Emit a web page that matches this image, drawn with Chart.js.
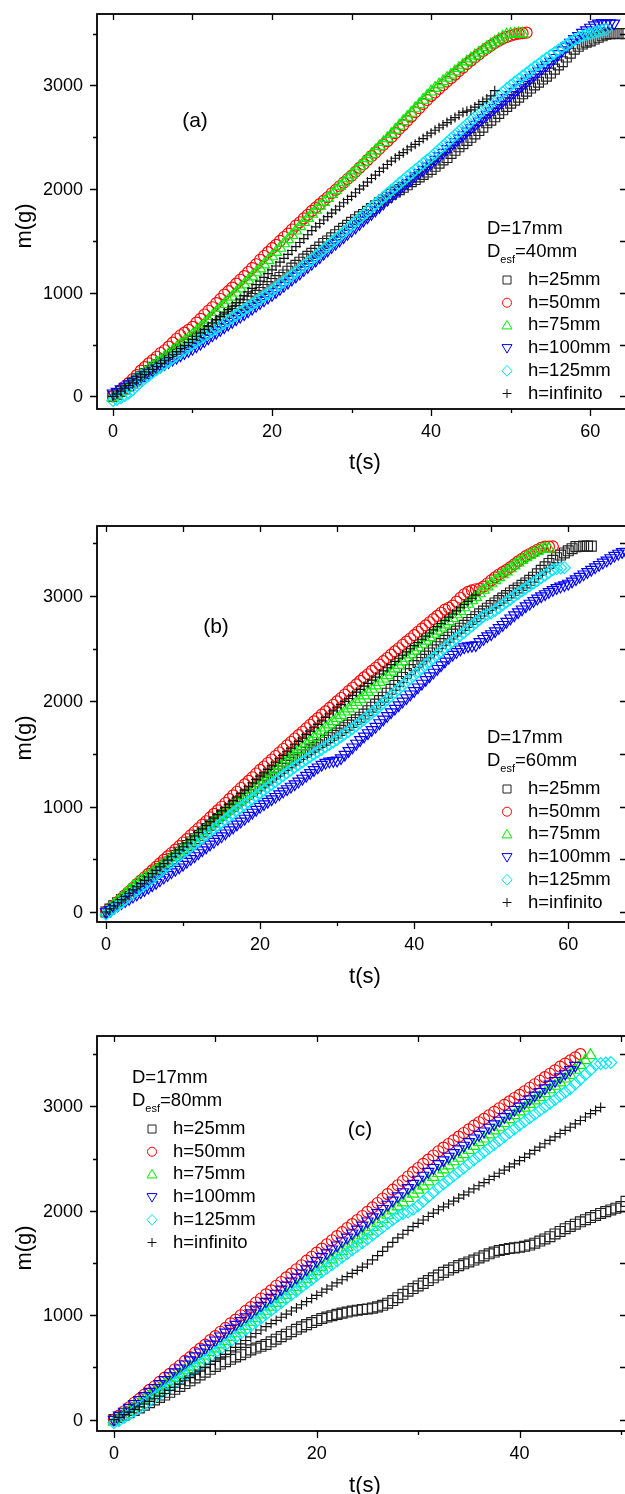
<!DOCTYPE html>
<html>
<head>
<meta charset="utf-8">
<script src="https://cdn.jsdelivr.net/npm/chart.js@4.4.1/dist/chart.umd.min.js"></script>
<style>
  html, body { margin: 0; padding: 0; background: #fff; }
  #wrap { position: relative; width: 625px; height: 1494px; overflow: hidden; background: #fff; }
  canvas { position: absolute; left: 0; }
</style>
</head>
<body>
<div id="wrap">
  <canvas id="chartA" width="640" height="490" style="top:0;width:640px;height:490px"></canvas>
  <canvas id="chartB" width="640" height="510" style="top:490px;width:640px;height:510px"></canvas>
  <canvas id="chartC" width="640" height="494" style="top:1000px;width:640px;height:494px"></canvas>
</div>
<script>
// sampling times (s), shared by every series; each series uses as many as it has values
const timeSec = [0,0.5,1,1.5,2,2.5,3,3.5,4,4.5,5,5.5,6,6.5,7,7.5,8,8.5,9,9.5,10,10.5,11,11.5,12,12.5,13,13.5,14,14.5,15,15.5,16,16.5,17,17.5,18,18.5,19,19.5,20,20.5,21,21.5,22,22.5,23,23.5,24,24.5,25,25.5,26,26.5,27,27.5,28,28.5,29,29.5,30,30.5,31,31.5,32,32.5,33,33.5,34,34.5,35,35.5,36,36.5,37,37.5,38,38.5,39,39.5,40,40.5,41,41.5,42,42.5,43,43.5,44,44.5,45,45.5,46,46.5,47,47.5,48,48.5,49,49.5,50,50.5,51,51.5,52,52.5,53,53.5,54,54.5,55,55.5,56,56.5,57,57.5,58,58.5,59,59.5,60,60.5,61,61.5,62,62.5,63,63.5,64,64.5,65,65.5,66,66.5,67,67.5,68];

const seriesNames = ['h=25mm', 'h=50mm', 'h=75mm', 'h=100mm', 'h=125mm', 'h=infinito'];

const xTicksAB = [0, 20, 40, 60];
const xTicksC = [0, 20, 40];
const xMinorTicks = [10, 30, 50];
const yTicks = [0, 1000, 2000, 3000];
const yMinorTicks = [500, 1500, 2500, 3500];

// ---- panel (a): D_esf = 40mm ----
const massA25 = [0,20,48,72,100,128,158,190,220,250,
  280,305,330,360,380,405,430,455,480,505,
  530,556,582,602,635,662,690,718,745,772,
  800,828,857,885,920,945,975,1003,1032,1060,
  1090,1118,1148,1172,1208,1238,1265,1295,1325,1352,
  1380,1410,1440,1476,1500,1530,1560,1592,1622,1650,
  1680,1705,1732,1755,1785,1812,1840,1868,1895,1922,
  1950,1972,1995,2018,2042,2072,2092,2118,2142,2165,
  2190,2220,2250,2282,2305,2345,2375,2408,2438,2470,
  2500,2532,2565,2598,2640,2665,2698,2730,2765,2798,
  2830,2858,2888,2920,2945,2975,3005,3032,3062,3090,
  3120,3158,3198,3230,3275,3312,3350,3378,3400,3418,
  3430,3448,3465,3480,3495,3500,3502,3500,3502,3500];
const massA50 = [0,25,62,95,130,168,205,248,282,318,
  350,382,418,445,480,518,556,590,615,642,
  670,712,748,790,826,860,900,940,982,1015,
  1050,1088,1125,1160,1200,1238,1275,1318,1355,1392,
  1430,1462,1500,1538,1570,1610,1648,1680,1718,1752,
  1790,1822,1855,1890,1922,1960,1992,2028,2062,2098,
  2130,2168,2205,2240,2280,2318,2352,2390,2428,2462,
  2500,2540,2582,2618,2660,2700,2742,2780,2822,2860,
  2900,2932,2968,3002,3038,3070,3105,3140,3172,3208,
  3240,3270,3300,3330,3358,3385,3410,3432,3452,3468,
  3480,3492,3500,3505,3510];
const massA75 = [-10,15,45,78,110,140,172,200,232,262,
  290,318,345,375,405,436,468,498,528,560,
  590,625,660,700,738,775,812,850,888,925,
  960,1000,1040,1078,1118,1155,1195,1232,1272,1312,
  1350,1392,1432,1475,1515,1555,1598,1640,1680,1720,
  1760,1798,1838,1875,1912,1950,1988,2028,2065,2102,
  2140,2178,2218,2258,2296,2335,2372,2412,2452,2490,
  2530,2572,2612,2655,2695,2735,2778,2818,2860,2900,
  2940,2975,3008,3040,3072,3102,3135,3168,3198,3230,
  3260,3288,3315,3342,3368,3395,3420,3445,3468,3490,
  3495,3498,3500,3500];
const massA100 = [30,45,70,95,118,140,162,185,208,230,
  250,270,290,312,332,355,375,398,420,440,
  460,485,510,535,562,590,615,642,668,695,
  720,745,770,795,822,848,875,902,928,955,
  980,1008,1038,1068,1098,1128,1158,1188,1220,1250,
  1280,1312,1345,1378,1410,1442,1475,1505,1538,1570,
  1600,1632,1665,1698,1730,1762,1795,1830,1862,1898,
  1930,1962,1995,2028,2060,2092,2125,2158,2188,2220,
  2250,2285,2318,2352,2388,2420,2455,2490,2522,2558,
  2590,2622,2655,2688,2720,2752,2785,2818,2850,2880,
  2910,2942,2975,3008,3040,3072,3105,3138,3170,3200,
  3230,3268,3305,3342,3378,3415,3450,3480,3510,3535,
  3560,3582,3600,3605,3600,3602,3600];
const massA125 = [-40,-30,-12,8,30,65,105,140,172,200,
  230,258,285,312,340,368,395,422,450,478,
  505,530,556,582,608,633,658,684,710,735,
  760,786,812,838,862,888,914,940,966,992,
  1020,1050,1080,1108,1138,1168,1198,1228,1260,1290,
  1320,1352,1385,1418,1450,1485,1518,1550,1585,1618,
  1650,1685,1720,1752,1788,1822,1855,1890,1922,1958,
  1990,2022,2055,2088,2120,2152,2185,2215,2248,2280,
  2310,2345,2380,2415,2450,2485,2520,2555,2590,2625,
  2660,2695,2730,2765,2800,2832,2868,2900,2935,2968,
  3000,3030,3060,3090,3118,3148,3178,3205,3235,3262,
  3290,3315,3342,3368,3392,3418,3440,3460,3478,3490,
  3500,3512,3522,3532,3540];
const massAinf = [0,22,50,78,105,130,158,185,210,235,
  260,288,318,348,375,402,432,462,490,520,
  550,580,612,645,675,708,740,772,805,838,
  870,905,938,972,1008,1042,1078,1112,1148,1185,
  1220,1258,1295,1332,1370,1408,1445,1485,1522,1560,
  1600,1635,1668,1702,1735,1768,1800,1835,1868,1900,
  1930,1965,2000,2032,2068,2102,2135,2170,2202,2238,
  2270,2298,2325,2352,2380,2408,2432,2460,2488,2515,
  2540,2568,2592,2618,2642,2668,2690,2715,2740,2752,
  2765,2792,2818,2845,2870,2900,2950];

// ---- panel (b): D_esf = 60mm ----
const massB25 = [0,28,58,88,118,148,175,205,232,262,
  290,320,352,382,412,445,475,505,538,568,
  600,632,665,696,728,760,792,825,856,888,
  920,948,978,1005,1035,1062,1090,1118,1145,1172,
  1200,1228,1255,1282,1310,1338,1365,1392,1418,1445,
  1470,1495,1518,1540,1565,1588,1610,1632,1655,1678,
  1700,1725,1750,1775,1800,1825,1850,1880,1912,1945,
  1975,2008,2040,2078,2115,2152,2190,2228,2265,2302,
  2340,2370,2400,2430,2460,2490,2520,2550,2580,2610,
  2640,2668,2695,2722,2750,2778,2805,2832,2858,2885,
  2910,2935,2958,2982,3005,3030,3055,3078,3102,3125,
  3150,3180,3212,3245,3278,3310,3340,3365,3390,3410,
  3430,3450,3470,3472,3475,3475,3475];
const massB50 = [0,30,62,95,128,160,195,230,265,298,
  330,362,395,428,462,495,528,560,592,625,
  660,692,728,762,795,830,862,898,932,965,
  1000,1035,1072,1108,1142,1178,1212,1245,1280,1315,
  1350,1382,1415,1448,1482,1515,1548,1582,1615,1648,
  1680,1712,1745,1778,1810,1842,1875,1905,1938,1968,
  2000,2032,2065,2098,2130,2162,2195,2228,2258,2290,
  2320,2350,2382,2412,2445,2475,2505,2538,2568,2598,
  2630,2662,2692,2722,2752,2782,2812,2842,2872,2890,
  2910,2948,2985,3018,3040,3055,3065,3070,3090,3120,
  3150,3178,3205,3228,3250,3275,3302,3330,3355,3380,
  3400,3420,3440,3458,3470,3470,3472];
const massB75 = [0,35,70,102,135,170,205,240,270,295,
  320,345,372,398,425,455,485,515,542,572,
  600,632,665,698,730,762,795,826,858,890,
  920,950,980,1010,1040,1070,1100,1130,1160,1190,
  1220,1252,1285,1318,1350,1382,1415,1448,1478,1510,
  1540,1570,1600,1630,1660,1690,1720,1750,1780,1810,
  1840,1870,1902,1932,1962,1992,2022,2055,2088,2118,
  2150,2182,2215,2248,2280,2312,2345,2378,2412,2445,
  2480,2512,2545,2575,2608,2640,2670,2700,2730,2760,
  2790,2825,2858,2892,2925,2958,2990,3025,3058,3090,
  3120,3150,3178,3205,3232,3262,3290,3318,3342,3368,
  3390,3410,3428,3445,3450,3450];
const massB100 = [0,20,42,62,85,105,125,148,168,190,
  210,232,255,278,302,328,352,378,402,425,
  450,478,505,532,560,588,615,642,668,695,
  720,748,778,805,832,860,888,916,945,972,
  1000,1025,1048,1072,1095,1120,1145,1168,1192,1215,
  1240,1268,1295,1322,1350,1375,1400,1418,1430,1436,
  1440,1462,1495,1530,1565,1600,1635,1668,1700,1730,
  1760,1795,1830,1862,1898,1932,1965,2000,2032,2068,
  2100,2135,2170,2205,2240,2275,2310,2345,2380,2415,
  2445,2470,2495,2515,2525,2530,2535,2565,2595,2620,
  2640,2668,2698,2728,2758,2790,2820,2848,2875,2905,
  2930,2955,2978,3000,3020,3040,3060,3078,3092,3105,
  3120,3140,3162,3185,3208,3230,3252,3275,3298,3320,
  3340,3362,3385,3405,3420,3422,3420];
const massB125 = [-20,5,35,62,90,120,150,180,208,235,
  260,290,320,350,380,412,442,472,502,532,
  560,590,620,648,678,706,736,765,795,822,
  850,878,908,936,965,992,1020,1048,1075,1102,
  1130,1158,1185,1212,1240,1268,1295,1322,1348,1375,
  1400,1425,1450,1475,1498,1522,1545,1570,1592,1615,
  1640,1665,1690,1715,1742,1770,1800,1830,1860,1890,
  1920,1952,1985,2018,2052,2085,2118,2150,2185,2218,
  2250,2282,2315,2348,2380,2412,2445,2478,2510,2540,
  2570,2600,2628,2658,2688,2718,2748,2778,2808,2825,
  2840,2865,2890,2918,2945,2972,3000,3025,3050,3075,
  3100,3125,3150,3175,3200,3225,3250,3262,3268,3270];
const massBinf = [0,30,58,88,118,148,178,210,240,270,
  300,332,365,395,428,460,492,525,558,590,
  620,655,688,722,755,790,822,858,892,925,
  960,992,1025,1058,1092,1125,1158,1190,1225,1258,
  1290,1322,1355,1388,1422,1455,1488,1522,1555,1588,
  1620,1652,1685,1718,1750,1782,1815,1848,1880,1910,
  1940,1970,2000,2028,2058,2088,2115,2145,2172,2202,
  2230,2260,2290,2320,2350,2380,2410,2440,2470,2500,
  2530,2560,2590,2620,2650,2680,2710,2740,2770,2800,
  2830,2860,2890,2920,2950,2980,3010];

// ---- panel (c): D_esf = 80mm ----
const massC25 = [0,20,42,65,88,112,138,162,188,212,
  235,262,290,318,345,372,400,428,455,482,
  510,532,555,578,600,622,645,668,685,702,
  720,745,770,795,818,842,865,888,910,930,
  950,968,982,995,1008,1020,1030,1040,1048,1055,
  1060,1068,1080,1095,1115,1140,1168,1200,1230,1255,
  1280,1305,1332,1358,1385,1410,1432,1455,1475,1492,
  1510,1528,1548,1568,1588,1605,1620,1630,1638,1645,
  1650,1660,1672,1690,1710,1730,1752,1778,1802,1828,
  1850,1872,1895,1915,1935,1955,1975,1992,2008,2025,
  2040,2090];
const massC50 = [0,38,80,118,162,198,240,285,320,362,
  402,438,482,518,562,598,642,680,718,762,
  800,842,878,922,958,1000,1042,1078,1122,1160,
  1200,1238,1282,1318,1362,1398,1440,1478,1522,1560,
  1600,1638,1680,1718,1758,1795,1835,1872,1912,1950,
  1990,2032,2075,2118,2160,2202,2245,2285,2328,2370,
  2410,2450,2490,2530,2570,2605,2640,2675,2710,2745,
  2780,2815,2848,2880,2915,2948,2982,3015,3048,3080,
  3110,3145,3178,3212,3245,3280,3312,3345,3380,3410,
  3440,3470,3500];
const massC75 = [-20,15,52,85,120,155,192,225,262,295,
  330,366,400,438,470,505,542,575,612,645,
  680,718,752,790,825,862,896,935,968,1004,
  1040,1080,1116,1152,1192,1232,1268,1304,1344,1382,
  1420,1460,1496,1532,1572,1612,1648,1684,1724,1762,
  1800,1842,1880,1918,1960,2002,2040,2078,2120,2162,
  2200,2238,2280,2322,2360,2394,2432,2472,2506,2540,
  2580,2620,2655,2690,2730,2768,2802,2838,2876,2914,
  2950,2985,3022,3055,3088,3125,3162,3195,3228,3265,
  3300,3348,3395,3440,3490];
const massC100 = [0,40,78,115,152,190,228,268,305,342,
  380,418,455,492,530,570,608,645,682,720,
  760,798,835,872,910,946,982,1020,1056,1092,
  1130,1168,1208,1248,1285,1325,1362,1402,1442,1480,
  1520,1558,1595,1632,1670,1708,1745,1785,1822,1860,
  1900,1940,1980,2020,2060,2100,2140,2180,2220,2260,
  2300,2338,2375,2412,2450,2485,2520,2555,2590,2625,
  2660,2695,2730,2762,2798,2830,2865,2900,2932,2968,
  3000,3035,3070,3105,3140,3175,3210,3245,3280,3315,
  3350,3390];
const massC125 = [-30,-10,20,50,82,115,148,180,212,246,
  280,315,352,388,425,460,496,532,568,604,
  640,678,715,752,790,826,862,900,936,972,
  1010,1048,1085,1122,1160,1196,1232,1270,1306,1342,
  1380,1415,1450,1485,1520,1555,1590,1625,1660,1695,
  1730,1768,1805,1842,1880,1915,1950,1975,1990,2015,
  2050,2092,2135,2178,2220,2258,2295,2335,2372,2410,
  2450,2488,2525,2562,2600,2635,2672,2710,2748,2785,
  2820,2855,2890,2925,2960,2995,3030,3065,3100,3135,
  3170,3215,3260,3305,3350,3400,3410,3415,3420];
const massCinf = [0,22,48,72,98,122,150,175,200,225,
  250,280,310,340,372,402,435,465,498,530,
  560,592,625,660,692,725,758,792,825,858,
  890,920,950,980,1010,1040,1070,1100,1130,1160,
  1190,1220,1250,1280,1310,1340,1370,1400,1430,1460,
  1490,1530,1570,1612,1655,1698,1740,1775,1812,1848,
  1880,1912,1945,1978,2010,2038,2065,2092,2122,2152,
  2180,2210,2240,2270,2300,2330,2360,2390,2420,2450,
  2480,2512,2545,2578,2610,2642,2675,2708,2740,2770,
  2800,2832,2865,2898,2930,2960,2990];

const FONT = '"Liberation Sans", Arial, sans-serif';

// marker look of each series, same order as seriesNames
const markerStyles = [
  { style: 'rect', rotation: 0, radius: 7, color: '#222' },
  { style: 'circle', rotation: 0, radius: 5.5, color: '#ff0000' },
  { style: 'triangle', rotation: 0, radius: 6.5, color: '#00ee00' },
  { style: 'triangle', rotation: 180, radius: 6.5, color: '#0000ff' },
  { style: 'rectRot', rotation: 0, radius: 6, color: '#00e8ff' },
  { style: 'cross', rotation: 0, radius: 5, color: '#111' }
];

function toPoints(masses) {
  return masses.map((m, i) => ({ x: timeSec[i], y: m }));
}

function buildDatasets(seriesList) {
  return seriesList.map((masses, i) => {
    const mk = markerStyles[i];
    return {
      label: seriesNames[i],
      data: toPoints(masses),
      showLine: false,
      pointStyle: mk.style,
      pointRotation: mk.rotation,
      pointRadius: mk.radius,
      pointBorderWidth: 1.15,
      pointBorderColor: mk.color,
      pointBackgroundColor: 'rgba(0,0,0,0)',
      order: 5 - i
    };
  });
}

// small legend markers drawn by hand
function legendMarker(ctx, i, x, y) {
  ctx.save();
  ctx.strokeStyle = markerStyles[i].color;
  ctx.lineWidth = 1;
  ctx.beginPath();
  if (i === 0) {
    ctx.rect(x - 4, y - 4, 8, 8);
  } else if (i === 1) {
    ctx.arc(x, y, 4.5, 0, Math.PI * 2);
  } else if (i === 2) {
    ctx.moveTo(x, y - 5); ctx.lineTo(x + 5, y + 3.5); ctx.lineTo(x - 5, y + 3.5); ctx.closePath();
  } else if (i === 3) {
    ctx.moveTo(x, y + 5); ctx.lineTo(x + 5, y - 3.5); ctx.lineTo(x - 5, y - 3.5); ctx.closePath();
  } else if (i === 4) {
    ctx.moveTo(x, y - 5.5); ctx.lineTo(x + 5, y); ctx.lineTo(x, y + 5.5); ctx.lineTo(x - 5, y); ctx.closePath();
  } else {
    ctx.moveTo(x - 4.5, y); ctx.lineTo(x + 4.5, y); ctx.moveTo(x, y - 4.5); ctx.lineTo(x, y + 4.5);
  }
  ctx.stroke();
  ctx.restore();
}

const panelDecor = {
  id: 'panelDecor',
  afterDraw(chart, args, o) {
    const ctx = chart.ctx, a = chart.chartArea;
    const xs = chart.scales.x, ys = chart.scales.y;
    ctx.save();
    ctx.strokeStyle = '#000';
    ctx.lineWidth = 1.3;
    ctx.beginPath();
    const xt = (vals, outLen, inLen) => vals.forEach(v => {
      const p = Math.round(xs.getPixelForValue(v)) + 0.5;
      ctx.moveTo(p, a.bottom); ctx.lineTo(p, a.bottom + outLen);
      ctx.moveTo(p, a.top); ctx.lineTo(p, a.top + inLen);
    });
    const yt = (vals, outLen, inLen) => vals.forEach(v => {
      const p = Math.round(ys.getPixelForValue(v)) + 0.5;
      ctx.moveTo(a.left, p); ctx.lineTo(a.left - outLen, p);
      ctx.moveTo(a.right, p); ctx.lineTo(a.right - inLen, p);
    });
    xt(o.xMajor, 7, 6);
    xt(xMinorTicks, 4, 6);
    yt(yTicks, 7, 6);
    yt(yMinorTicks, 4, 6);
    ctx.stroke();
    ctx.lineWidth = 1.8;
    ctx.strokeRect(a.left, a.top, a.right - a.left, a.bottom - a.top);

    ctx.fillStyle = '#000';
    // tick labels
    ctx.font = '18px ' + FONT;
    ctx.textBaseline = 'middle';
    ctx.textAlign = 'center';
    o.xMajor.forEach(v => ctx.fillText(String(v), xs.getPixelForValue(v), a.bottom + 23));
    ctx.textAlign = 'right';
    yTicks.forEach(v => ctx.fillText(String(v), a.left - 14, ys.getPixelForValue(v) + 1));

    // panel tag and axis titles
    ctx.textAlign = 'center';
    ctx.font = '21px ' + FONT;
    ctx.fillText(o.tag, o.tagX, o.tagY);
    ctx.font = '22px ' + FONT;
    ctx.fillText('t(s)', 365, o.xTitleY);
    ctx.save();
    ctx.translate(25, o.yTitleY);
    ctx.rotate(-Math.PI / 2);
    ctx.fillText('m(g)', 0, 0);
    ctx.restore();

    // legend block
    ctx.textAlign = 'left';
    ctx.font = '18.5px ' + FONT;
    ctx.fillText('D=17mm', o.legX, o.legY);
    ctx.fillText('D', o.legX, o.legY + 23);
    const dW = ctx.measureText('D').width;
    ctx.font = '11px ' + FONT;
    ctx.fillText('esf', o.legX + dW, o.legY + 31);
    const sW = ctx.measureText('esf').width;
    ctx.font = '18.5px ' + FONT;
    ctx.fillText('=' + o.desf, o.legX + dW + sW, o.legY + 23);
    seriesNames.forEach((name, i) => {
      const y = o.legY + 51 + i * 22.7;
      legendMarker(ctx, i, o.legX + 20, y);
      ctx.fillText(name, o.legX + 41, y);
    });
    ctx.restore();
  }
};

function makeChart(id, seriesList, cfg) {
  return new Chart(document.getElementById(id), {
    type: 'scatter',
    data: { datasets: buildDatasets(seriesList) },
    plugins: [panelDecor],
    options: {
      responsive: false,
      animation: false,
      events: [],
      layout: { padding: { top: cfg.top, right: 14, left: 0, bottom: 0 } },
      plugins: {
        legend: { display: false },
        tooltip: { enabled: false },
        panelDecor: cfg.decor
      },
      scales: {
        x: {
          type: 'linear', min: cfg.xMin, max: cfg.xMax,
          grid: { display: false, drawTicks: false }, border: { display: false },
          afterFit: s => { s.height = cfg.xHeight; },
          ticks: { display: false }
        },
        y: {
          type: 'linear', min: cfg.yMin, max: cfg.yMax,
          grid: { display: false, drawTicks: false }, border: { display: false },
          afterFit: s => { s.width = 97; },
          ticks: { display: false }
        }
      }
    }
  });
}

makeChart('chartA', [massA25, massA50, massA75, massA100, massA125, massAinf], {
  top: 14, xHeight: 81, xMin: -2.0, xMax: 64.5, yMin: -122, yMax: 3690,
  decor: { xMajor: xTicksAB, tag: '(a)', tagX: 195, tagY: 121, xTitleY: 463, yTitleY: 226,
           legX: 487, legY: 229, desf: '40mm' }
});
makeChart('chartB', [massB25, massB50, massB75, massB100, massB125, massBinf], {
  top: 36, xHeight: 78, xMin: -1.17, xMax: 67.5, yMin: -95, yMax: 3666,
  decor: { xMajor: xTicksAB, tag: '(b)', tagX: 216, tagY: 137, xTitleY: 487, yTitleY: 248,
           legX: 487, legY: 248, desf: '60mm' }
});
makeChart('chartC', [massC25, massC50, massC75, massC100, massC125, massCinf], {
  top: 36, xHeight: 63, xMin: -1.67, xMax: 50.5, yMin: -109, yMax: 3674,
  decor: { xMajor: xTicksC, tag: '(c)', tagX: 360, tagY: 130, xTitleY: 486, yTitleY: 248,
           legX: 132, legY: 78, desf: '80mm' }
});
</script>
</body>
</html>
